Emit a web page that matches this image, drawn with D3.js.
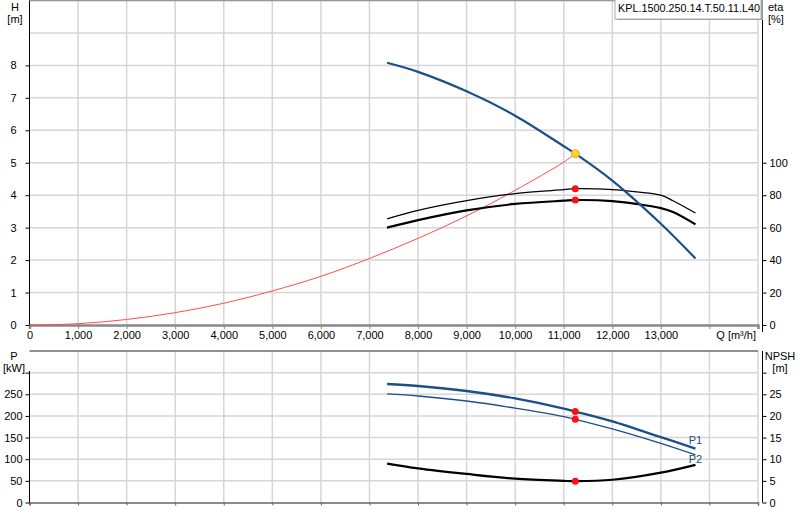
<!DOCTYPE html>
<html>
<head>
<meta charset="utf-8">
<script src="https://cdn.jsdelivr.net/npm/d3@7"></script>
<style>
  body { margin: 0; background: #fff; }
  svg { font-family: "Liberation Sans", Arial, sans-serif; font-size: 11px; }
  .grid line { stroke: #d6d6d6; stroke-width: 1.5; }
</style>
</head>
<body>
<svg id="chart" width="800" height="520"></svg>
<script>
// pump curve data
const qPump = [7363, 8000, 9000, 10000, 11000, 11238, 12000, 13000, 13713];
const headH = [8.08, 7.8, 7.2, 6.45, 5.51, 5.28, 4.45, 3.12, 2.05];
const p1 = [273.8, 269, 257.5, 240.5, 217, 210, 187.5, 151, 124.6];
const p2 = [250.8, 246, 234.5, 218, 198.5, 192.3, 170, 136.5, 110];
const npsh = [9.0, 7.9, 6.6, 5.5, 5.0, 4.93, 5.25, 6.9, 8.7];

// efficiency curves (own flow points, they bend near the end)
const qEta = [7363, 8000, 9000, 10000, 11000, 11238, 12000, 12500, 13000, 13250, 13713];
const eta1 = [65.4, 70.6, 76.6, 81.0, 83.4, 84.0, 83.4, 82, 80, 76.6, 69];
const eta2 = [60, 64.6, 70.6, 74.6, 76.6, 77, 76.4, 74.6, 72, 69.6, 62];

// system curve
const qSys = [0, 1000, 2000, 3000, 4000, 5000, 6000, 7000, 8000, 9000, 10000, 11000, 11238];
const hSys = [0, 0.04, 0.17, 0.38, 0.67, 1.05, 1.5, 2.05, 2.67, 3.36, 4.15, 5.02, 5.28];

// operating point
const dutyQ = 11238;
const dutyH = 5.28;
const dutyEta = [84.0, 77];
const dutyP = [210, 192.3];
const dutyNpsh = 4.93;

const qTicks = [0, 1000, 2000, 3000, 4000, 5000, 6000, 7000, 8000, 9000, 10000, 11000, 12000, 13000];
const hTicks = [0, 1, 2, 3, 4, 5, 6, 7, 8];
const etaTicks = [0, 20, 40, 60, 80, 100];
const pTicks = [0, 50, 100, 150, 200, 250];
const npshTicks = [0, 5, 10, 15, 20, 25];
const pumpName = "KPL.1500.250.14.T.50.11.L40";

const svg = d3.select('#chart');
const blue = '#1b4f8a';

const left = 29.5, right = 758, axisR = 762.5;
const x = d3.scaleLinear().domain([0, 15000]).range([left, right]);

// top plot
const topY0 = 0.5, topY1 = 325;
const yH = d3.scaleLinear().domain([0, 10]).range([topY1, topY0]);
const yEta = d3.scaleLinear().domain([0, 200]).range([topY1, topY0]);

// bottom plot
const botY0 = 351, botY1 = 502.5;
const yP = d3.scaleLinear().domain([0, 350]).range([botY1, botY0]);
const yN = d3.scaleLinear().domain([0, 35]).range([botY1, botY0]);

function grid(yScale, yVals, y0, y1) {
    const g = svg.append('g').attr('class', 'grid');
    g.selectAll('.v').data(d3.range(1000, 15001, 1000)).join('line')
        .attr('x1', d => x(d)).attr('x2', d => x(d))
        .attr('y1', y0).attr('y2', y1);
    g.selectAll('.h').data(yVals).join('line')
        .attr('x1', left).attr('x2', right)
        .attr('y1', d => yScale(d)).attr('y2', d => yScale(d));
}

grid(yH, d3.range(1, 11), topY0, topY1);
grid(yP, d3.range(50, 351, 50), botY0, botY1);

// plot border lines
svg.append('line').attr('x1', left).attr('x2', right).attr('y1', topY0).attr('y2', topY0)
    .attr('stroke', '#999').attr('stroke-width', 1.5);
svg.append('line').attr('x1', left).attr('x2', right).attr('y1', botY0).attr('y2', botY0)
    .attr('stroke', '#777').attr('stroke-width', 1.5);

// axes
function styleAxis(g, color) {
    g.selectAll('.domain').attr('stroke', color);
    g.selectAll('.tick line').attr('stroke', color);
    g.selectAll('.tick text').attr('fill', '#000').style('font-size', '11px')
        .style('font-family', '"Liberation Sans", Arial, sans-serif');
}

// x axis of the top plot (gray, with labels)
const xAxTop = svg.append('g')
    .attr('transform', `translate(0, ${topY1})`)
    .call(d3.axisBottom(x).tickValues(qTicks.concat([14000, 15000])).tickSize(4).tickPadding(2)
        .tickFormat(d => d <= 13000 ? d3.format(',')(d) : ''));
styleAxis(xAxTop, '#888');
xAxTop.select('.domain').attr('stroke-width', 2.5);

svg.append('text').attr('x', 756).attr('y', 339).attr('text-anchor', 'end').text('Q [m³/h]');

// x axis of the bottom plot (no labels)
const xAxBot = svg.append('g')
    .attr('transform', `translate(0, ${botY1})`)
    .call(d3.axisBottom(x).tickValues(d3.range(0, 15001, 1000)).tickSize(3).tickFormat(''));
styleAxis(xAxBot, '#666');
xAxBot.select('.domain').attr('stroke-width', 1.5);

// left H axis
const hAx = svg.append('g')
    .attr('transform', `translate(${left}, 0)`)
    .call(d3.axisLeft(yH).tickValues(hTicks).tickSize(4).tickPadding(9));
styleAxis(hAx, '#000');
hAx.select('.domain').attr('d', `M0,${topY0}V${topY1}`);

// right eta axis
const eAx = svg.append('g')
    .attr('transform', `translate(${axisR}, 0)`)
    .call(d3.axisRight(yEta).tickValues(etaTicks).tickSize(4).tickPadding(3));
styleAxis(eAx, '#000');
eAx.select('.domain').attr('d', `M0,${topY0}V332`);

// left P axis
const pAx = svg.append('g')
    .attr('transform', `translate(${left}, 0)`)
    .call(d3.axisLeft(yP).tickValues(pTicks.concat([300])).tickSize(4).tickPadding(3)
        .tickFormat(d => d <= 250 ? d : ''));
styleAxis(pAx, '#000');
pAx.select('.domain').attr('d', `M0,${botY0 + 20}V${botY1}`);

// right NPSH axis
const nAx = svg.append('g')
    .attr('transform', `translate(${axisR}, 0)`)
    .call(d3.axisRight(yN).tickValues(npshTicks.concat([30])).tickSize(4).tickPadding(3)
        .tickFormat(d => d <= 25 ? d : ''));
styleAxis(nAx, '#000');
nAx.select('.domain').attr('d', `M0,${botY0}V${botY1}`);

// axis titles
function title(xp, y, lines, anchor) {
    lines.forEach((t, i) => {
        svg.append('text').attr('x', xp).attr('y', y + i * 12).attr('text-anchor', anchor).text(t);
    });
}
title(15, 11, ['H', '[m]'], 'middle');
title(768, 11, ['eta', '[%]'], 'start');
title(14, 360, ['P', '[kW]'], 'middle');
title(780, 360, ['NPSH', '[m]'], 'middle');

// curves
function curve(xs, ys, yScale, color, width) {
    const line = d3.line().curve(d3.curveCatmullRom.alpha(0.5))
        .x(d => x(d[0])).y(d => yScale(d[1]));
    svg.append('path')
        .datum(xs.map((q, i) => [q, ys[i]]))
        .attr('d', line)
        .attr('fill', 'none')
        .attr('stroke', color)
        .attr('stroke-width', width);
}

curve(qSys, hSys, yH, '#ff4d4d', 1);
curve(qEta, eta1, yEta, '#000', 1.3);
curve(qEta, eta2, yEta, '#000', 2.2);
curve(qPump, headH, yH, blue, 2.2);

curve(qPump, p1, yP, blue, 2.4);
curve(qPump, p2, yP, blue, 1.3);
curve(qPump, npsh, yN, '#000', 2.2);

// duty markers
function dot(q, yv, yScale, r, fill, stroke) {
    svg.append('circle').attr('cx', x(q)).attr('cy', yScale(yv)).attr('r', r)
        .attr('fill', fill).attr('stroke', stroke || 'none').attr('stroke-width', 1);
}
dutyEta.forEach(v => dot(dutyQ, v, yEta, 3.5, '#ff1010'));
dutyP.forEach(v => dot(dutyQ, v, yP, 3.5, '#ff1010'));
dot(dutyQ, dutyNpsh, yN, 3.5, '#ff1010');
dot(dutyQ, dutyH, yH, 4, '#ffdd00', '#ff8888');

// P1 / P2 labels
svg.append('text').attr('x', x(qPump[qPump.length - 1])).attr('y', yP(p1[p1.length - 1]) - 5)
    .attr('text-anchor', 'middle').attr('fill', blue).text('P1');
svg.append('text').attr('x', x(qPump[qPump.length - 1])).attr('y', yP(p2[p2.length - 1]) + 8)
    .attr('text-anchor', 'middle').attr('fill', blue).text('P2');

// pump name box
const box = svg.append('g');
box.append('rect').attr('x', 617).attr('y', -1).attr('width', 146).attr('height', 21)
    .attr('fill', '#999');
box.append('rect').attr('x', 615).attr('y', -2).attr('width', 146).attr('height', 21)
    .attr('fill', '#fff').attr('stroke', '#aaa');
box.append('text').attr('x', 618).attr('y', 12).style('font-size', '10.8px').text(pumpName);
</script>
</body>
</html>
